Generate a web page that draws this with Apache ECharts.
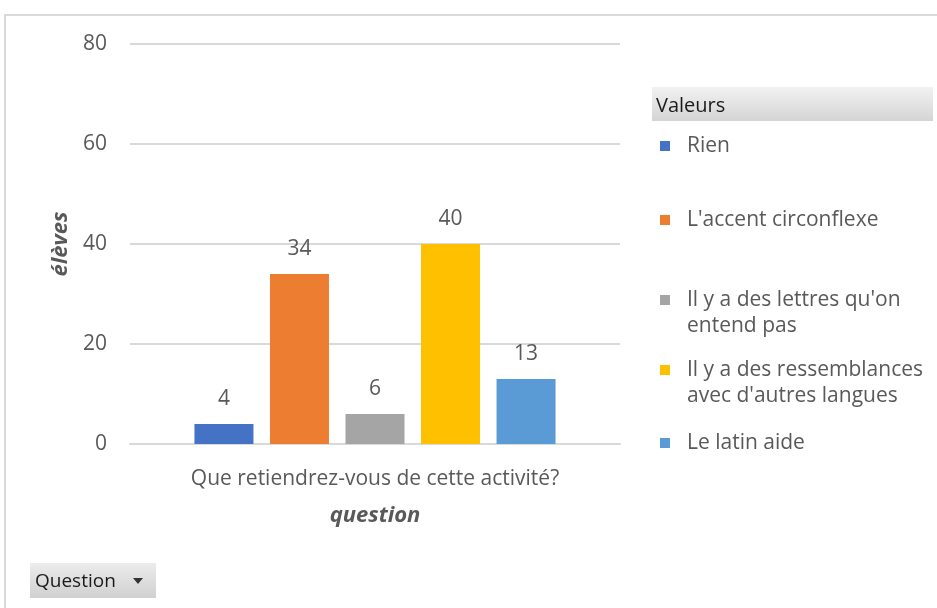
<!DOCTYPE html>
<html>
<head>
<meta charset="utf-8">
<script src="https://cdn.jsdelivr.net/npm/echarts@6/dist/echarts.min.js"></script>
<style>
  html, body { margin: 0; padding: 0; background: #fff; }
  #chart { width: 937px; height: 608px; }
</style>
</head>
<body>
<div id="chart"></div>
<script>
  var categories = ["Que retiendrez-vous de cette activité?"];
  var seriesNames = ["Rien", "L'accent circonflexe", "Il y a des lettres qu'on entend pas",
    "Il y a des ressemblances avec d'autres langues", "Le latin aide"];
  var seriesValues = [4, 34, 6, 40, 13];
  // texte de légende : première ligne, puis suite éventuelle
  var legendFirst = ["Rien", "L'accent circonflexe", "Il y a des lettres qu'on",
    "Il y a des ressemblances", "Le latin aide"];
  var legendSecond = ["", "", "entend pas", "avec d'autres langues", ""];
  var yTicks = [0, 20, 40, 60, 80];
  var colors = ["#4472C4", "#ED7D31", "#A5A5A5", "#FFC000", "#5B9BD5"];

  var font = "'Open Sans', 'Noto Sans', sans-serif";
  var grey = '#595959';
  var chart = echarts.init(document.getElementById('chart'));

  var series = seriesNames.map(function (name, i) {
    return {
      name: name,
      type: 'bar',
      data: [seriesValues[i]],
      barWidth: 59,
      barGap: '28%',
      itemStyle: { color: colors[i] },
      label: {
        show: true,
        position: 'top',
        distance: 14,
        color: grey,
        fontSize: 21,
        fontFamily: font
      }
    };
  });

  // une légende par élément pour garder l'espacement d'Excel
  var legendCenters = [146, 220, 300, 370, 443];
  var legends = seriesNames.map(function (name, i) {
    return {
      orient: 'vertical',
      left: 655,
      top: legendCenters[i] - 19,
      data: [name],
      itemWidth: 10,
      itemHeight: 10,
      icon: 'rect',
      selectedMode: false,
      formatter: function () { return legendFirst[i]; },
      textStyle: {
        color: grey,
        fontSize: 21,
        fontFamily: font,
        lineHeight: 28,
        padding: [0, 0, 0, 12]
      }
    };
  });

  var graphics = [
    {
      type: 'rect',
      shape: { x: 5, y: 15, width: 960, height: 620 },
      style: { fill: 'none', stroke: '#d9d9d9', lineWidth: 2 },
      silent: true
    },
    {
      type: 'rect',
      shape: { x: 652, y: 87, width: 281, height: 34 },
      style: {
        fill: new echarts.graphic.LinearGradient(0, 0, 0, 1, [
          { offset: 0, color: '#f2f2f2' }, { offset: 1, color: '#d4d4d4' }
        ])
      }
    },
    {
      type: 'text',
      style: { x: 656, y: 106, text: 'Valeurs', fill: '#1a1a1a', fontSize: 20, fontFamily: font, verticalAlign: 'middle' }
    },
    {
      type: 'rect',
      shape: { x: 30, y: 563, width: 126, height: 35 },
      style: {
        fill: new echarts.graphic.LinearGradient(0, 0, 0, 1, [
          { offset: 0, color: '#ececec' }, { offset: 1, color: '#d0d0d0' }
        ])
      }
    },
    {
      type: 'text',
      style: { x: 35, y: 582, text: 'Question', fill: '#1a1a1a', fontSize: 19, fontFamily: font, verticalAlign: 'middle' }
    },
    {
      type: 'polygon',
      shape: { points: [[133, 578], [143, 578], [138, 584]] },
      style: { fill: '#333' }
    }
  ];
  legendSecond.forEach(function (txt, i) {
    if (txt) {
      graphics.push({
        type: 'text',
        style: { x: 687, y: legendCenters[i] + 26, text: txt, fill: grey, fontSize: 21, fontFamily: font, verticalAlign: 'middle' }
      });
    }
  });

  chart.setOption({
    backgroundColor: '#fff',
    animation: false,
    grid: { left: 130, right: 317, top: 44, height: 400 },
    xAxis: {
      type: 'category',
      data: categories,
      name: 'question',
      nameLocation: 'middle',
      nameGap: 61,
      nameTextStyle: { color: grey, fontSize: 22, fontWeight: 'bold', fontStyle: 'italic', fontFamily: font },
      axisTick: { show: false },
      axisLine: { lineStyle: { color: '#d9d9d9', width: 2 } },
      axisLabel: { color: grey, fontSize: 21, margin: 25, fontFamily: font }
    },
    yAxis: {
      type: 'value',
      min: yTicks[0],
      max: yTicks[yTicks.length - 1],
      interval: 20,
      name: 'élèves',
      nameLocation: 'middle',
      nameGap: 56,
      nameRotate: 90,
      nameTextStyle: { color: grey, fontSize: 22, fontWeight: 'bold', fontStyle: 'italic', fontFamily: font },
      axisLine: { show: false },
      axisTick: { show: false },
      splitLine: { lineStyle: { color: '#d9d9d9', width: 2 } },
      axisLabel: { color: grey, fontSize: 21, margin: 23, fontFamily: font }
    },
    legend: legends,
    graphic: graphics,
    series: series
  });
</script>
</body>
</html>
